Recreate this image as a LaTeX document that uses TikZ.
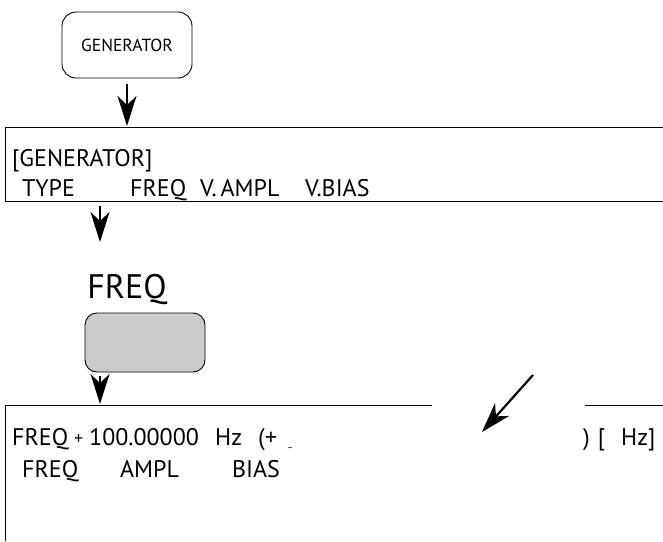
\documentclass[tikz,border=0pt]{standalone}
\usepackage{fontspec}
\setmainfont{PT Sans}
\usetikzlibrary{arrows.meta}
\begin{document}
\begin{tikzpicture}[x=1pt,y=-1pt,
  frame/.style={line width=0.9pt},
  txt/.style={anchor=base west, inner sep=0pt, font=\fontsize{24}{28}\selectfont},
  dart/.style={line width=2.2pt, -{Stealth[length=30pt,width=19pt,inset=9pt]}},
]
\useasboundingbox (0,0) rectangle (663,541);
% top key
\node[draw, frame, rounded corners=14pt, minimum width=130pt, minimum height=66pt,
      inner sep=0pt, font=\fontsize{17.5}{20}\selectfont] (gen) at (127,45) {GENERATOR};
% box 2
\coordinate (b2tl) at (5,127); \coordinate (b2tr) at (663,127);
\coordinate (b2bl) at (5,201); \coordinate (b2br) at (663,201);
\draw[frame] (b2tr) -- (b2tl) -- (b2bl) -- (b2br);
\coordinate (b2top) at (127,126);
\draw[dart] ([yshift=-6pt]gen.south) -- (b2top);
\node[txt] (t1) at (12,166) {[GENERATOR]};
\node[txt] (t2) at (22,196) {TYPE};
\node[txt] (t3) at (130,196) {FREQ};
\node[txt] (t4) at (200,196) {V.\,AMPL};
\node[txt] (t5) at (305,196) {V.BIAS};
% arrow 2
\coordinate (a2s) at (100,206); \coordinate (a2e) at (100,242);
\draw[dart] (a2s) -- (a2e);
% FREQ key
\node[inner sep=0pt, font=\fontsize{34}{38}\selectfont] (fl) at (127,290) {FREQ};
\node[draw, frame, fill=black!20, rounded corners=12pt, minimum width=120pt,
      minimum height=59pt, inner sep=0pt] (fk) at (145,342.5) {};
\coordinate (b3top) at (100,404);
\draw[dart] ([yshift=-4pt]fk.south -| b3top) -- (b3top);
% box 3
\coordinate (b3tl) at (5,405); \coordinate (b3g1) at (432,405);
\coordinate (b3g2) at (585,405); \coordinate (b3tr) at (663,405);
\coordinate (b3bl) at (5,541);
\draw[frame] (b3g1) -- (b3tl) -- (b3bl);
\draw[frame] (b3g2) -- (b3tr);
\node[txt] (r1) at (12,445) {FREQ};
\node[txt, font=\fontsize{18}{20}\selectfont] (r2) at (74,444) {+};
\node[txt] (r3) at (89,445) {100.00000};
\node[txt] (r4) at (215,445) {Hz};
\node[txt] (r5) at (258,445) {(+};
\node[txt, font=\fontsize{10}{12}\selectfont] (r6) at (288,446) {\_};
\node[txt] (r7) at (583,445) {)\,\,[\,\,\,\,Hz]};
\node[txt] (s1) at (22,477) {FREQ};
\node[txt] (s2) at (120,477) {AMPL};
\node[txt] (s3) at (232,477) {BIAS};
% pointer arrow
\coordinate (p1) at (533,375); \coordinate (p2) at (482,432);
\draw[dart] (p1) -- (p2);
\end{tikzpicture}
\end{document}
